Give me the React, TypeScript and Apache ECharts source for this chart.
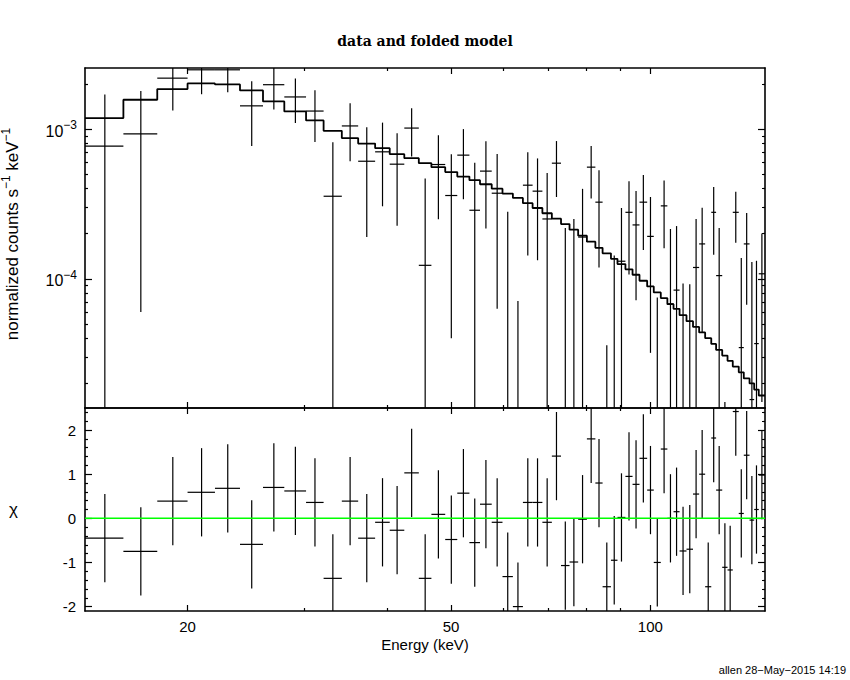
import React, { useEffect, useRef } from 'react';
import * as echarts from 'echarts';

// Energy bin edges (keV)
const EDGES = [
  14.0, 16.0, 18.0, 20.0, 22.0, 24.0, 26.0, 28.0, 30.2, 32.1,
  34.2, 36.2, 38.4, 40.4, 42.5, 44.7, 46.7, 49.0, 51.1, 53.3,
  55.3, 57.6, 59.8, 62.0, 64.2, 66.4, 68.7, 71.0, 73.3, 75.5,
  77.8, 80.2, 82.6, 84.7, 87.2, 89.2, 91.7, 94.0, 96.3, 98.9,
  101.2, 103.7, 106.1, 108.4, 110.7, 113.4, 116.0, 118.5, 121.0, 123.6,
  125.7, 128.4, 130.8, 133.2, 136.0, 138.4, 141.2, 143.5, 145.8, 149.0,
];

// Data rate per bin (x 1e-3 counts s^-1 keV^-1)
const RATE = [
  0.77, 0.93, 2.19, 2.49, 2.49, 1.43, 1.98, 1.64, 1.32, 0.356,
  1.05, 0.61, 0.705, 0.583, 1.016, 0.123, 0.58, 0.36, 0.67, 0.287,
  0.524, 0.373, -0.006, -0.205, 0.422, 0.385, 0.251, 0.592, -0.007, 0.004,
  0.19, 0.557, 0.325, -0.166, -0.057, 0.131, 0.278, 0.229, 0.325, 0.192,
  -0.075, 0.307, 0.068, 0.084, -0.047, -0.042, 0.119, 0.171, -0.154, 0.278,
  0.105, -0.124, -0.112, 0.278, 0.0347, 0.171, 0.0156, 0.0369, 0.108,
];

// 1-sigma error per bin (x 1e-3)
const RATE_ERR = [
  0.93, 0.87, 0.86, 0.78, 0.73, 0.66, 0.63, 0.54, 0.50, 0.46,
  0.44, 0.42, 0.40, 0.357, 0.36, 0.345, 0.33, 0.32, 0.33, 0.308,
  0.307, 0.31, 0.286, 0.276, 0.279, 0.252, 0.259, 0.24, 0.225, 0.247,
  0.209, 0.213, 0.206, 0.202, 0.20, 0.166, 0.171, 0.157, 0.169, 0.16,
  0.15, 0.147, 0.147, 0.141, 0.140, 0.134, 0.132, 0.127, 0.125, 0.133,
  0.113, 0.139, 0.12, 0.104, 0.103, 0.104, 0.114, 0.095, 0.093,
];

// Folded model per bin (x 1e-3)
const MODEL = [
  1.185, 1.571, 1.852, 2.018, 1.988, 1.813, 1.530, 1.312, 1.142, 0.974,
  0.871, 0.801, 0.746, 0.680, 0.639, 0.592, 0.557, 0.516, 0.482, 0.456,
  0.428, 0.400, 0.371, 0.347, 0.320, 0.297, 0.274, 0.252, 0.232, 0.213,
  0.194, 0.177, 0.161, 0.148, 0.136, 0.1254, 0.1156, 0.1064, 0.0970, 0.0889,
  0.0811, 0.0743, 0.0677, 0.0630, 0.0571, 0.0521, 0.0477, 0.0438, 0.0401, 0.0367,
  0.0335, 0.0307, 0.0283, 0.0259, 0.0237, 0.0216, 0.0200, 0.0182, 0.0166,
];

// Residuals (chi)
const CHI = [
  -0.45, -0.75, 0.39, 0.59, 0.68, -0.59, 0.70, 0.62, 0.36, -1.36,
  0.39, -0.45, -0.09, -0.27, 1.03, -1.36, 0.09, -0.48, 0.57, -0.55,
  0.32, -0.09, -1.32, -2.0, 0.36, 0.36, -0.09, 1.41, -1.07, -0.99,
  -0.02, 1.80, 0.80, -1.55, -0.95, 0.02, 0.95, 0.77, 1.36, 0.64,
  -1.0, 1.57, 0.0, 0.15, -0.74, -0.70, 0.55, 1.0, -1.55, 1.82,
  0.64, -1.11, -1.17, 2.42, 0.11, 1.43, -0.04, 0.20, 0.98,
];
const CHI_ERR = 1;

const RATE_UNIT = 1e-3;

const X_MIN = 14;
const X_MAX = 149;
const Y_MIN = 1.37e-5;
const Y_MAX = 2.56e-3;
const CHI_MIN = -2.1;
const CHI_MAX = 2.5;

const X_MAJOR = [20, 50, 100];
const X_MINOR = [30, 40, 60, 70, 80, 90];
const Y_MAJOR = [1e-3, 1e-4];
const Y_MINOR = [
  2e-3, 9e-4, 8e-4, 7e-4, 6e-4, 5e-4, 4e-4, 3e-4, 2e-4,
  9e-5, 8e-5, 7e-5, 6e-5, 5e-5, 4e-5, 3e-5, 2e-5,
];
const CHI_MAJOR = [-2, -1, 0, 1, 2];
const CHI_MINOR = [
  -1.8, -1.6, -1.4, -1.2, -0.8, -0.6, -0.4, -0.2,
  0.2, 0.4, 0.6, 0.8, 1.2, 1.4, 1.6, 1.8, 2.2, 2.4,
];

const FONT = '"Liberation Sans", Arial, sans-serif';
const BLACK = '#000000';

const AXIS_LINE = { show: true, onZero: false, lineStyle: { color: BLACK, width: 1.6 } };
const NO_LINE = { show: false, onZero: false };
const TICK_STYLE = { color: BLACK, width: 1.2 };

function tickAxis(base: any, gridIndex: number, position: string, ticks: number[], len: number, withLine: boolean, extra: any = {}) {
  return {
    ...base,
    gridIndex,
    position,
    axisLine: withLine ? AXIS_LINE : NO_LINE,
    axisTick: { show: true, inside: true, length: len, customValues: ticks, lineStyle: TICK_STYLE },
    axisLabel: { show: false },
    splitLine: { show: false },
    minorTick: { show: false },
    ...extra,
  };
}

export default function App() {
  const ref = useRef<HTMLDivElement>(null);

  useEffect(() => {
    if (!ref.current) return;
    const chart = echarts.init(ref.current, undefined, { renderer: 'svg' });

    const nBins = EDGES.length - 1;
    const crossData = [];
    const chiData = [];
    for (let i = 0; i < nBins; i++) {
      crossData.push([EDGES[i], EDGES[i + 1], RATE[i] * RATE_UNIT, RATE_ERR[i] * RATE_UNIT]);
      chiData.push([EDGES[i], EDGES[i + 1], CHI[i], CHI_ERR]);
    }
    const modelData = EDGES.map((e, i) => [e, MODEL[Math.min(i, nBins - 1)] * RATE_UNIT]);

    const xBase = { type: 'log', logBase: 10, min: X_MIN, max: X_MAX };
    const yLogBase = { type: 'log', logBase: 10, min: Y_MIN, max: Y_MAX };
    const chiBase = { type: 'value', min: CHI_MIN, max: CHI_MAX };

    const tickRich = {
      b: { fontSize: 16, fontFamily: FONT, color: BLACK, lineHeight: 20, verticalAlign: 'bottom' },
      s: { fontSize: 12, fontFamily: FONT, color: BLACK, lineHeight: 12, verticalAlign: 'top' },
    };
    const nameRich = {
      b: { fontSize: 17, fontFamily: FONT, fill: BLACK, lineHeight: 21, verticalAlign: 'bottom' },
      s: { fontSize: 12, fontFamily: FONT, fill: BLACK, lineHeight: 12, verticalAlign: 'top' },
    };

    const xAxes = [
      tickAxis(xBase, 0, 'bottom', X_MAJOR, 6, true),
      tickAxis(xBase, 0, 'bottom', X_MINOR, 3, false),
      tickAxis(xBase, 0, 'top', X_MAJOR, 6, true),
      tickAxis(xBase, 0, 'top', X_MINOR, 3, false),
      tickAxis(xBase, 1, 'bottom', X_MAJOR, 6, true, {
        axisLabel: {
          show: true,
          customValues: X_MAJOR,
          margin: 8,
          fontFamily: FONT,
          fontSize: 15,
          color: BLACK,
          formatter: (v: number) => String(Math.round(v)),
        },
        name: 'Energy (keV)',
        nameLocation: 'middle',
        nameGap: 26,
        nameTextStyle: { fontFamily: FONT, fontSize: 15, color: BLACK },
      }),
      tickAxis(xBase, 1, 'bottom', X_MINOR, 3, false),
      tickAxis(xBase, 1, 'top', X_MAJOR, 6, true),
      tickAxis(xBase, 1, 'top', X_MINOR, 3, false),
    ];

    const yAxes = [
      tickAxis(yLogBase, 0, 'left', Y_MAJOR, 7, true, {
        axisLabel: {
          show: true,
          customValues: Y_MAJOR,
          margin: 8,
          formatter: (v: number) => {
            const p = Math.round(Math.log10(v));
            return `{b|10}{s|${p < 0 ? '\u2212' : ''}${Math.abs(p)}}`;
          },
          rich: tickRich,
        },
      }),
      tickAxis(yLogBase, 0, 'left', Y_MINOR, 3, false),
      tickAxis(yLogBase, 0, 'right', Y_MAJOR, 7, true),
      tickAxis(yLogBase, 0, 'right', Y_MINOR, 3, false),
      tickAxis(chiBase, 1, 'left', CHI_MAJOR, 7, true, {
        axisLabel: {
          show: true,
          customValues: CHI_MAJOR,
          margin: 9,
          fontFamily: FONT,
          fontSize: 15,
          color: BLACK,
          formatter: (v: number) => String(Math.round(v)),
        },
        name: '\u03c7',
        nameLocation: 'middle',
        nameRotate: 0,
        nameGap: 67,
        nameMoveOverlap: false,
        nameTextStyle: { fontFamily: FONT, fontSize: 17, color: BLACK },
      }),
      tickAxis(chiBase, 1, 'left', CHI_MINOR, 3, false),
      tickAxis(chiBase, 1, 'right', CHI_MAJOR, 7, true),
      tickAxis(chiBase, 1, 'right', CHI_MINOR, 3, false),
    ];

    const line = (p1: number[], p2: number[], w: number) => ({
      type: 'line',
      shape: { x1: p1[0], y1: p1[1], x2: p2[0], y2: p2[1] },
      style: { stroke: BLACK, lineWidth: w },
    });

    const option = {
      animation: false,
      backgroundColor: '#ffffff',
      title: {
        text: 'data and folded model',
        left: 'center',
        top: 29,
        textStyle: { fontFamily: '"DejaVu Serif", serif', fontWeight: 'bold', fontSize: 14, color: BLACK },
      },
      grid: [
        { left: 85, top: 68, width: 680, height: 340, outerBoundsMode: 'none', containLabel: false },
        { left: 85, top: 408, width: 680, height: 203, outerBoundsMode: 'none', containLabel: false },
      ],
      xAxis: xAxes,
      yAxis: yAxes,
      graphic: [
        {
          type: 'text',
          x: 10,
          y: 234,
          rotation: Math.PI / 2,
          style: {
            text: '{b|normalized counts s}{s|\u22121}{b| keV}{s|\u22121}',
            rich: nameRich,
            align: 'center',
            verticalAlign: 'middle',
            fill: BLACK,
          },
        },
        {
          type: 'text',
          right: 4,
          top: 664,
          style: { text: 'allen 28\u2212May\u22122015 14:19', font: `11px ${FONT}`, fill: BLACK },
        },
      ],
      series: [
        {
          type: 'custom',
          xAxisIndex: 0,
          yAxisIndex: 0,
          clip: true,
          encode: { x: [0, 1], y: 3 },
          data: crossData,
          renderItem: (params: any, api: any) => {
            const lo = api.value(0);
            const hi = api.value(1);
            const v = api.value(2);
            const e = api.value(3);
            const c = (lo + hi) / 2;
            const children: any[] = [];
            if (v >= Y_MIN && v <= Y_MAX) {
              children.push(line(api.coord([lo, v]), api.coord([hi, v]), 1.2));
            }
            const top = v + e;
            if (top > Y_MIN) {
              const t = Math.min(top, Y_MAX);
              const b = Math.max(v - e, Y_MIN);
              children.push(line(api.coord([c, b]), api.coord([c, t]), 1.2));
            }
            return { type: 'group', children };
          },
          z: 2,
        },
        {
          type: 'line',
          xAxisIndex: 0,
          yAxisIndex: 0,
          step: 'end',
          data: modelData,
          showSymbol: false,
          symbol: 'none',
          clip: true,
          lineStyle: { color: BLACK, width: 1.8 },
          z: 3,
        },
        {
          type: 'custom',
          xAxisIndex: 4,
          yAxisIndex: 4,
          clip: true,
          encode: { x: [0, 1], y: 2 },
          data: chiData,
          renderItem: (params: any, api: any) => {
            const lo = api.value(0);
            const hi = api.value(1);
            const v = api.value(2);
            const e = api.value(3);
            const c = (lo + hi) / 2;
            const children: any[] = [];
            if (v >= CHI_MIN && v <= CHI_MAX) {
              children.push(line(api.coord([lo, v]), api.coord([hi, v]), 1.2));
            }
            const t = Math.min(v + e, CHI_MAX);
            const b = Math.max(v - e, CHI_MIN);
            children.push(line(api.coord([c, b]), api.coord([c, t]), 1.2));
            return { type: 'group', children };
          },
          z: 2,
        },
        {
          type: 'line',
          xAxisIndex: 4,
          yAxisIndex: 4,
          data: [[X_MIN, 0], [X_MAX, 0]],
          showSymbol: false,
          symbol: 'none',
          lineStyle: { color: '#00ff00', width: 1.5 },
          z: 4,
        },
      ],
    };

    chart.setOption(option as any);
    return () => chart.dispose();
  }, []);

  return (
    <div
      ref={ref}
      style={{ position: 'fixed', left: 0, top: 0, width: 850, height: 680, background: '#fff' }}
    />
  );
}
